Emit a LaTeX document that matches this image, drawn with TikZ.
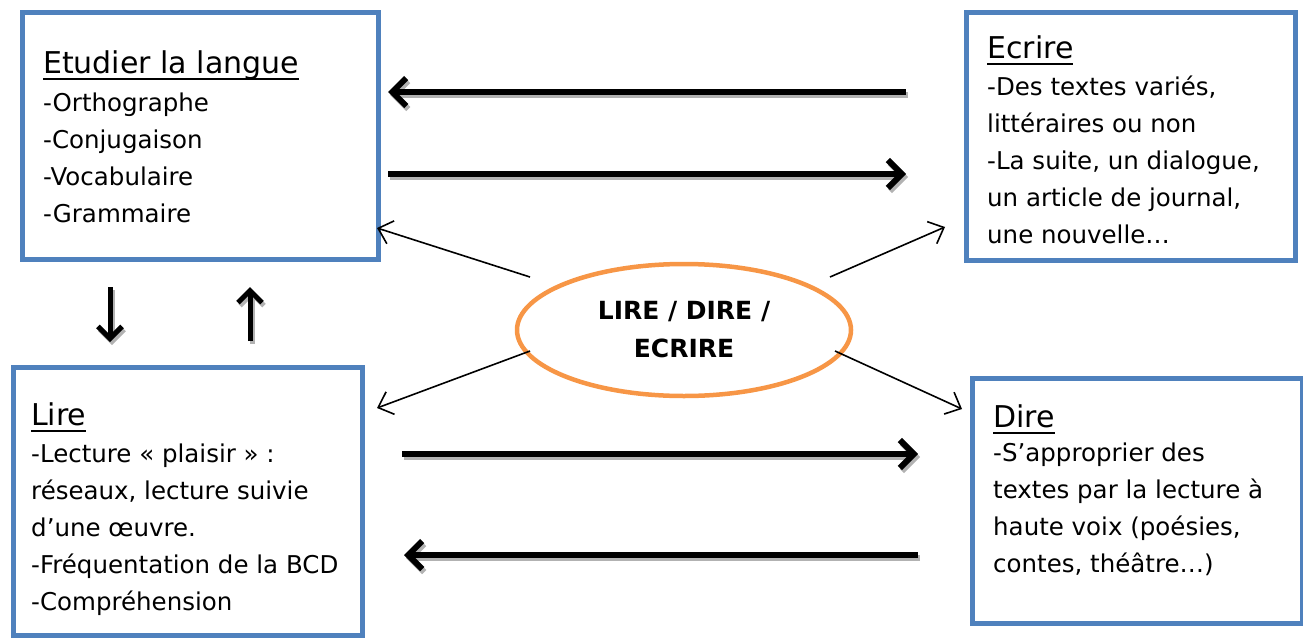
\documentclass[tikz,border=0pt]{standalone}
\usepackage{fontspec}
\setmainfont{DejaVu Sans}
\usetikzlibrary{arrows.meta,shapes.geometric}
\definecolor{boxblue}{HTML}{4F81BD}
\definecolor{ellorange}{HTML}{F79646}
\newsavebox\ulbox
\newcommand\myul[1]{\sbox\ulbox{#1}\rlap{\rule[-7pt]{\wd\ulbox}{2.5pt}}\usebox\ulbox}
\begin{document}
\begin{tikzpicture}[x=1pt,y=-1pt,
  box/.style={draw=boxblue,line width=4.5pt,rectangle,inner sep=0pt,anchor=north west},
  titletext/.style={anchor=base west,inner sep=0pt,font=\fontsize{30}{36}\selectfont},
  bodytext/.style={anchor=base west,inner sep=0pt,align=left,font=\fontsize{24.5}{37}\selectfont},
  bigarrow/.style={line width=6pt,-{Straight Barb[length=14pt,width=28pt]}},
  midarrow/.style={line width=5pt,-{Straight Barb[length=12pt,width=24pt]}},
  shadowed/.style={draw=black!30,transform canvas={shift={(2pt,-3pt)}}},
  thinarrow/.style={line width=1.6pt,-{Straight Barb[length=13pt,width=24pt]}}
]
\useasboundingbox (0,0) rectangle (1303,637);

% boxes
\node[box,minimum width=356pt,minimum height=247pt] (etud) at (20,10) {};
\node[box,minimum width=329pt,minimum height=248pt] (ecri) at (964,10) {};
\node[box,minimum width=349pt,minimum height=268pt] (lire) at (11,365) {};
\node[box,minimum width=330pt,minimum height=245pt] (dire) at (970,376) {};

% texts (anchor base = baseline of the last line)
\node[titletext] (etudT) at (43,73) {\myul{Etudier la langue}};
\node[bodytext] (etudB) at (43,222) {-Orthographe\\-Conjugaison\\-Vocabulaire\\-Grammaire};

\node[titletext] (ecriT) at (987,58) {\myul{Ecrire}};
\node[bodytext] (ecriB) at (987,243) {-Des textes variés,\\littéraires ou non\\-La suite, un dialogue,\\un article de journal,\\une nouvelle…};

\node[titletext] (lireT) at (31,425) {\myul{Lire}};
\node[bodytext] (lireB) at (31,610) {-Lecture «~plaisir~» :\\réseaux, lecture suivie\\d’une œuvre.\\-Fréquentation de la BCD\\-Compréhension};

\node[titletext] (direT) at (993,427) {\myul{Dire}};
\node[bodytext] (direB) at (993,572) {-S’approprier des\\textes par la lecture à\\haute voix (poésies,\\contes, théâtre…)};

% central ellipse
\node[draw=ellorange,line width=4.5pt,ellipse,minimum width=334pt,minimum height=132pt,inner sep=0pt,
      align=center,font=\bfseries\fontsize{25}{38}\selectfont] (centre) at (684,330) {LIRE / DIRE /\\ECRIRE};

% coordinates for thick arrows
\coordinate (t1a) at (906,92);  \coordinate (t1b) at (388,92);
\coordinate (t2a) at (388,174); \coordinate (t2b) at (906,174);
\coordinate (b1a) at (402,454); \coordinate (b1b) at (918,454);
\coordinate (b2a) at (918,555); \coordinate (b2b) at (404,555);
\coordinate (v1a) at (110,287); \coordinate (v1b) at (110,342);
\coordinate (v2a) at (250,341); \coordinate (v2b) at (250,287);

\foreach \s/\e in {t1a/t1b,t2a/t2b,b1a/b1b,b2a/b2b}{
  \draw[bigarrow,shadowed] (\s) -- (\e);
  \draw[bigarrow] (\s) -- (\e);
}
\foreach \s/\e in {v1a/v1b,v2a/v2b}{
  \draw[midarrow,shadowed] (\s) -- (\e);
  \draw[midarrow] (\s) -- (\e);
}

% thin arrows from the centre
\coordinate (c1) at (530,277); \coordinate (e1) at (377,228);
\coordinate (c2) at (530,351); \coordinate (e2) at (377,408);
\coordinate (c3) at (830,277); \coordinate (e3) at (945,227);
\coordinate (c4) at (835,351); \coordinate (e4) at (962,409);
\draw[thinarrow] (c1) -- (e1);
\draw[thinarrow] (c2) -- (e2);
\draw[thinarrow] (c3) -- (e3);
\draw[thinarrow] (c4) -- (e4);
\end{tikzpicture}
\end{document}
